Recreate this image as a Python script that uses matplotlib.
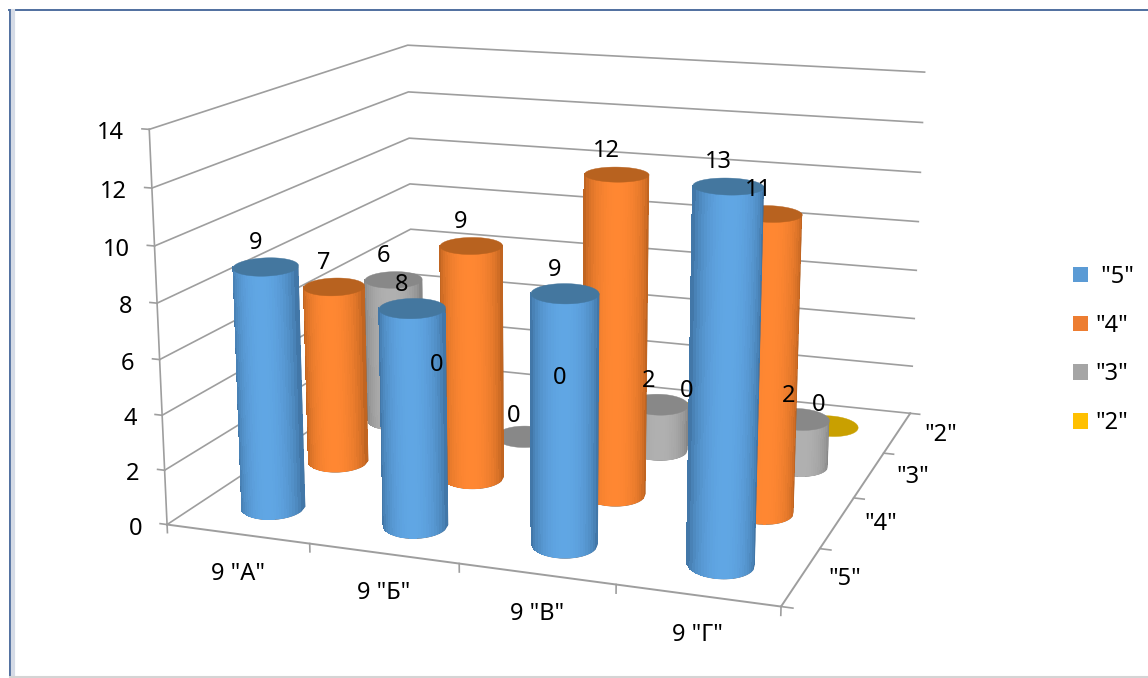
import numpy as np
import matplotlib
matplotlib.use("Agg")
import matplotlib.pyplot as plt
from matplotlib.colors import to_rgb
from matplotlib.lines import Line2D
from matplotlib.patches import Patch
from mpl_toolkits.mplot3d import proj3d
from mpl_toolkits.mplot3d.art3d import Poly3DCollection

plt.rcParams['font.family'] = ['Noto Sans', 'DejaVu Sans']

categories = ['9 "А"', '9 "Б"', '9 "В"', '9 "Г"']
series = ['"5"', '"4"', '"3"', '"2"']
grade5 = [9, 8, 9, 13]
grade4 = [7, 9, 12, 11]
grade3 = [6, 0, 2, 2]
grade2 = [0, 0, 0, 0]
z_ticks = [0, 2, 4, 6, 8, 10, 12, 14]

# front row first, so index in this list is also the position along depth
rows = [grade5, grade4, grade3, grade2]
body_mid = ['#60a6e4', '#ff8732', '#b0b0b0', '#e6ae00']
body_edge = ['#3a6a98', '#b05c1c', '#7c7c7c', '#a07a00']
top_col = ['#44779f', '#b8621f', '#888888', '#c9a000']
legend_col = ['#5b9bd5', '#ed7d31', '#a5a5a5', '#ffc000']

GRID = '#9e9e9e'
FONT = 17
AZIM = -70.627
WIDTH_R, DEPTH_R = 0.205, 0.25   # ellipse half axes, across and along the line of sight
INSET = 0.1                      # bars stop a little short of their value, as in the picture
W, H = 1148, 678

fig = plt.figure(figsize=(W / 100, H / 100), dpi=100)
ax = fig.add_subplot(projection='3d', computed_zorder=False)
ax.set_axis_off()
ax.view_init(14.151, AZIM, -0.12)
ax.set_proj_type('persp', focal_length=0.4576)
ax.set_box_aspect((1, 0.9828, 0.6355))
ax.set_xlim(0, 4)
ax.set_ylim(0, 4)
ax.set_zlim(0, 14)
ax.autoscale(False)

# projection centre and scale were fitted to the picture, in pixels
cx, cy, scale = 567.456, 285.416, 4798.96
x0, x1 = ax.viewLim.intervalx
y0, y1 = ax.viewLim.intervaly
ax.set_position([(cx + scale * x0) / W, (H - cy + scale * y0) / H,
                 scale * (x1 - x0) / W, scale * (y1 - y0) / H])
proj = ax.get_proj()


def label(x, y, z, txt, dx=0, dy=0, ha='center'):
    # dx, dy in pixels away from the projected 3d point, to the text baseline
    px, py, _ = proj3d.proj_transform(x, y, z, proj)
    ax.annotate(txt, (px, py), xytext=(dx, dy), textcoords='offset pixels', ha=ha, va='baseline',
                fontsize=FONT, color='black', zorder=100, annotation_clip=False)


az = np.radians(AZIM)


def ring(theta):
    # ellipse squared up to the camera, so it sits level on screen; sin(theta) > 0 faces the camera
    rx = WIDTH_R * np.cos(theta) * -np.sin(az) + DEPTH_R * np.sin(theta) * np.cos(az)
    ry = WIDTH_R * np.cos(theta) * np.cos(az) + DEPTH_R * np.sin(theta) * np.sin(az)
    return rx, ry


full_x, full_y = ring(np.linspace(0, 2 * np.pi, 121))
# strips of equal width on screen, wide enough that their edges leave no pattern
across = np.linspace(1, -1, 27)
arc_x, arc_y = ring(np.arccos(across))
glow = (1 - (0.5 * (across[:-1] + across[1:])) ** 2) ** 0.6


def cylinder(i, j, v, order):
    xc, yc = i + 0.5, j + 0.5
    top = max(v - INSET, 0)
    if v > 0:
        edge, mid = np.array(to_rgb(body_edge[j])), np.array(to_rgb(body_mid[j]))
        xs, ys = xc + arc_x, yc + arc_y
        # solid shape under the strips gives the smooth outline
        outline = [(x, y, INSET) for x, y in zip(xs, ys)] + [(x, y, top) for x, y in zip(xs[::-1], ys[::-1])]
        ax.add_collection3d(Poly3DCollection([outline], facecolors=body_edge[j], edgecolors=body_edge[j],
                                             linewidths=0.3, zorder=order))
        quads = [[(xs[k], ys[k], INSET), (xs[k + 1], ys[k + 1], INSET),
                  (xs[k + 1], ys[k + 1], top), (xs[k], ys[k], top)] for k in range(len(glow))]
        cols = [edge + (mid - edge) * g for g in glow]
        ax.add_collection3d(Poly3DCollection(quads, facecolors=cols, edgecolors='none', linewidths=0,
                                             antialiased=False, zorder=order + 0.2))
    disc = list(zip(xc + full_x, yc + full_y, np.full_like(full_x, top)))
    ax.add_collection3d(Poly3DCollection([disc], facecolors=top_col[j], edgecolors=top_col[j],
                                         linewidths=0.3, zorder=order + 0.5))


# walls and floor
for z in z_ticks:
    ax.plot([0, 0, 4], [0, 4, 4], [z, z, z], color=GRID, lw=1.2, zorder=1)
    ax.plot([-0.05, 0], [0, 0], [z, z], color=GRID, lw=1.2, zorder=1)
ax.plot([0, 0], [0, 0], [0, 14], color=GRID, lw=1.2, zorder=1)
ax.plot([0, 4, 4], [0, 0, 4], [0, 0, 0], color=GRID, lw=1.4, zorder=1)
for i in range(5):
    ax.plot([i, i], [0, 0], [0, -0.3], color=GRID, lw=1.2, zorder=1)
for j in range(5):
    ax.plot([4, 4.07], [j, j], [0, 0], color=GRID, lw=1.2, zorder=1)

# back rows first, then left to right
order = 2
for j in range(3, -1, -1):
    for i in range(4):
        cylinder(i, j, rows[j][i], order)
        order += 1

for j, row in enumerate(rows):
    for i, v in enumerate(row):
        label(i + 0.5, j + 0.5, v, str(v), dx=-10, dy=14.5)
for z in z_ticks:
    label(0, 0, z, str(z), dx=-25, dy=-10, ha='right')
for i, name in enumerate(categories):
    label(i + 0.5, 0, 0, name, dy=-46)
for j, name in enumerate(series):
    label(4, j + 0.5, 0, name, dx=44, dy=-8)

handles = [Patch(color=c, lw=0) for c in legend_col]
labels = [' "5"', '"4"', '"3"', '"2"']
fig.legend(handles, labels, loc='center left', bbox_to_anchor=(1052 / W, 1 - 350 / H), frameon=False,
           fontsize=FONT, handlelength=0.64, handleheight=0.64, handletextpad=0.3, labelspacing=1.05)

# chart frame
fig.add_artist(Line2D([9 / W, 1], [1 - 10 / H, 1 - 10 / H], color='#4f6f9f', lw=1.4))
fig.add_artist(Line2D([10 / W, 10 / W], [1 - 10 / H, 0], color='#4f6f9f', lw=1.4))
fig.add_artist(Line2D([13 / W, 13 / W], [1 - 11 / H, 0], color='#d5dbe6', lw=3))
fig.add_artist(Line2D([10 / W, 1], [1.5 / H, 1.5 / H], color='#d4d4d4', lw=1.5))

fig.savefig("out.png", dpi=100)
